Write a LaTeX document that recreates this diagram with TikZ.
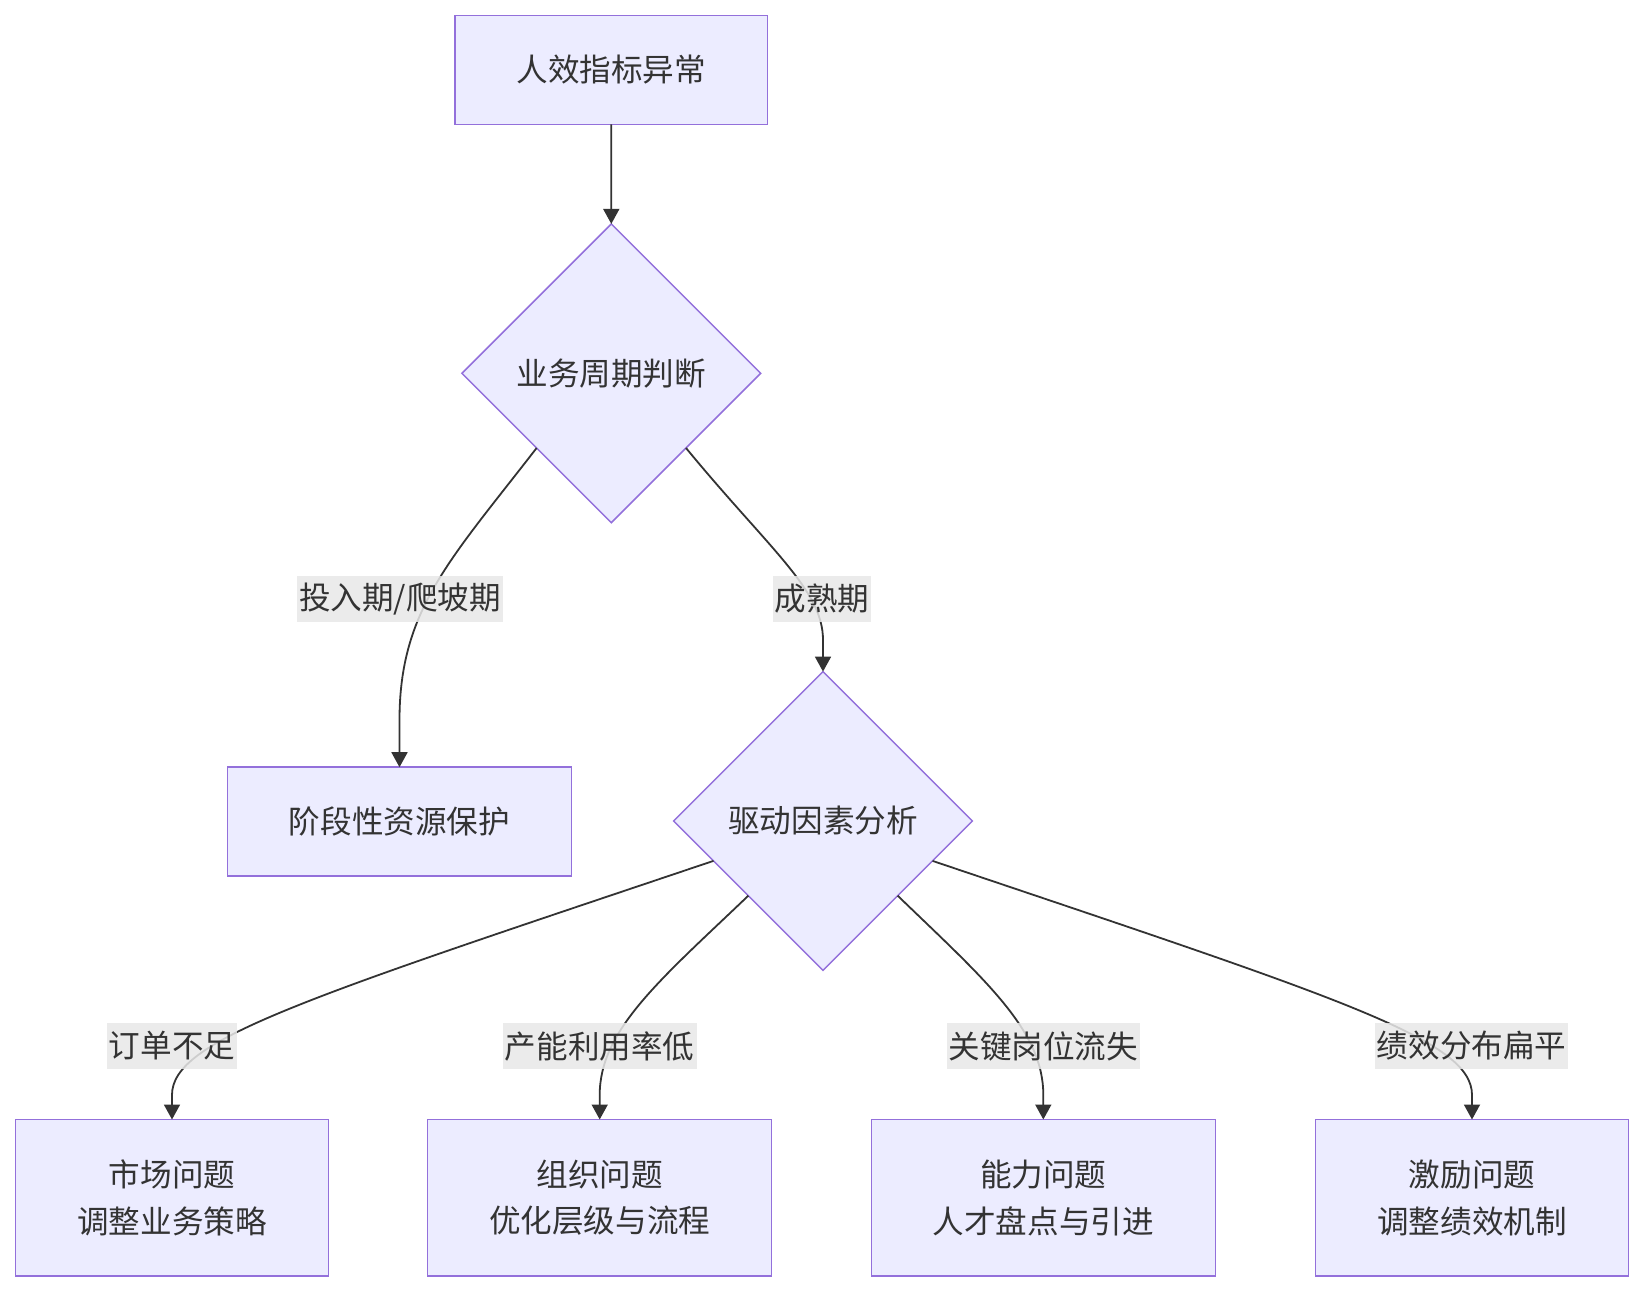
\documentclass[tikz,border=0pt]{standalone}
\usepackage{fontspec}
\setmainfont{Noto Sans CJK SC}
\usetikzlibrary{shapes.geometric, arrows.meta}
\definecolor{nodeFill}{HTML}{ECECFF}
\definecolor{nodeLine}{HTML}{9370DB}
\definecolor{edgeColor}{HTML}{333333}
\definecolor{labelFill}{HTML}{E8E8E8}

\begin{document}
\begin{tikzpicture}[x=0.5pt, y=-0.5pt,
    every node/.style={text=edgeColor, font=\fontsize{15.8pt}{23.4pt}\selectfont},
    box/.style={draw=nodeLine, fill=nodeFill, line width=0.75pt, align=center,
        outer sep=0pt, minimum width=156.3pt, minimum height=54.3pt},
    decision/.style={diamond, aspect=1, draw=nodeLine, fill=nodeFill, line width=0.75pt,
        minimum width=149.4pt, minimum height=149.4pt, inner sep=0pt, outer sep=0pt},
    edgelabel/.style={fill=labelFill, fill opacity=0.85, text opacity=1,
        inner xsep=1pt, inner ysep=0pt, minimum height=23pt},
    flow/.style={draw=edgeColor, line width=0.9pt, -{Triangle[length=7.5pt,width=8pt]}}]
    \useasboundingbox (0,0) rectangle (1644,1292);
    % nodes
    \node[box] (start) at (611.2,70) {人效指标异常};
    \node[decision] (cycle) at (611.3,373.3) {业务周期判断};
    \node[box, minimum width=172pt] (protect) at (399.5,821.5) {阶段性资源保护};
    \node[decision] (driver) at (823,821) {驱动因素分析};
    \node[box, minimum height=78.2pt] (market) at (172,1197.7) {市场问题\\调整业务策略};
    \node[box, minimum width=172pt, minimum height=78.2pt] (capacity) at (599.7,1197.7) {组织问题\\优化层级与流程};
    \node[box, minimum width=172pt, minimum height=78.2pt] (talent) at (1043.3,1197.7) {能力问题\\人才盘点与引进};
    \node[box, minimum height=78.2pt] (incentive) at (1472,1197.7) {激励问题\\调整绩效机制};
    % edges
    \draw[flow] (start.south) -- (cycle.north);
    \draw[flow] (cycle.225) .. controls (450,560) and (399.5,610) .. (399.5,720) -- (protect.north);
    \draw[flow] (cycle.315) .. controls (770,550) and (823,590) .. (823,640) -- (driver.north);
    \draw[flow] (driver.200) .. controls (300,1000) and (172,1040) .. (172,1095) -- (market.north);
    \draw[flow] (driver.225) .. controls (660,980) and (599.7,1030) .. (599.7,1095) -- (capacity.north);
    \draw[flow] (driver.315) .. controls (985,980) and (1043.3,1030) .. (1043.3,1095) -- (talent.north);
    \draw[flow] (driver.340) .. controls (1345,1000) and (1472,1040) .. (1472,1095) -- (incentive.north);
    % edge labels
    \node[edgelabel] (lblInvest) at (400,598.7) {投入期/爬坡期};
    \node[edgelabel] (lblMature) at (822,598.7) {成熟期};
    \node[edgelabel] (lblOrder) at (172,1046) {订单不足};
    \node[edgelabel] (lblCapacity) at (599.7,1046) {产能利用率低};
    \node[edgelabel] (lblTalent) at (1043.3,1046) {关键岗位流失};
    \node[edgelabel] (lblIncentive) at (1471.6,1046) {绩效分布扁平};
\end{tikzpicture}
\end{document}
